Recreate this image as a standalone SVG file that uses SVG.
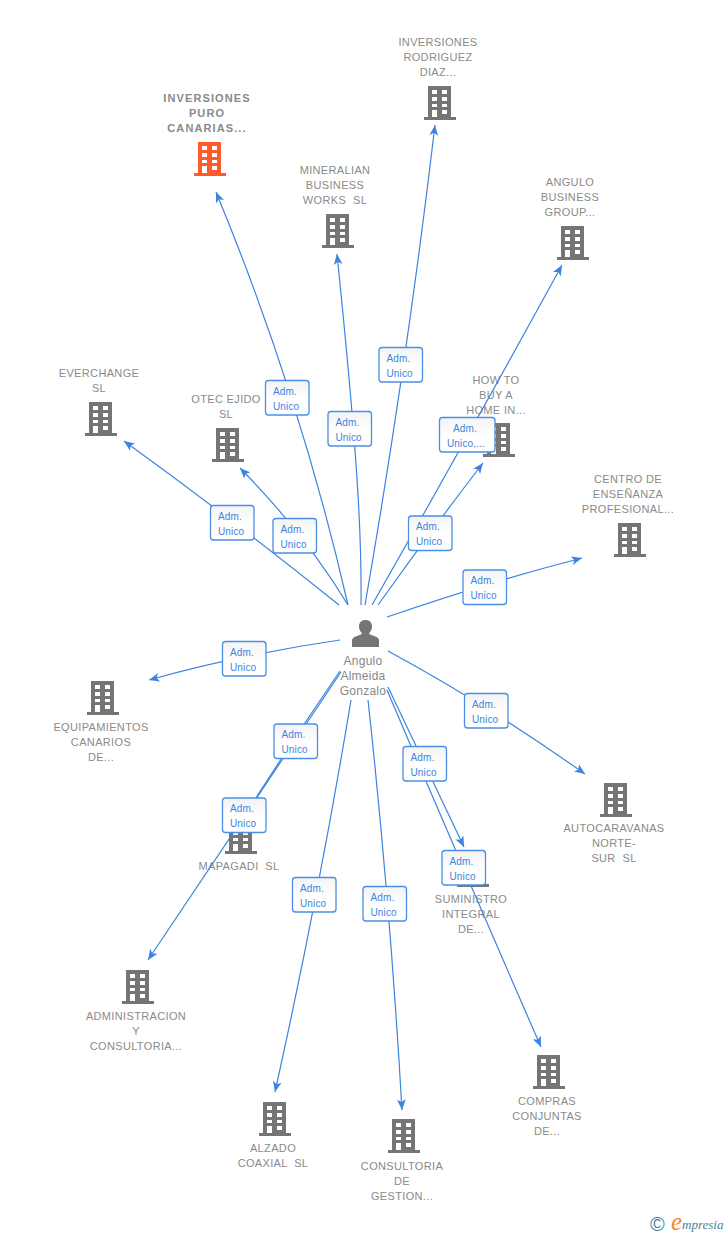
<svg xmlns="http://www.w3.org/2000/svg" width="728" height="1235" viewBox="0 0 728 1235">
<style>
text{font-family:"Liberation Sans",Arial,sans-serif;white-space:pre}
.n{font-size:11px;letter-spacing:.35px;fill:#8a8a8a;text-anchor:middle}
.b{font-weight:bold;letter-spacing:1.1px}
.p{font-size:12px;letter-spacing:.25px;fill:#878787;text-anchor:middle}
.e{fill:none;stroke:#3d83e0;stroke-width:1.2;marker-end:url(#a)}
.l rect{fill:url(#g);stroke:#4a8ee6;stroke-width:1.3}
.l text{font-size:10px;letter-spacing:.15px;fill:#3d83e0}
.c{fill:#757575}.o{fill:#ff5a2b}
</style>
<defs>
<linearGradient id="g" x1="0" y1="0" x2="0" y2="1"><stop offset="0" stop-color="#f3f3f3"/><stop offset=".55" stop-color="#fff"/></linearGradient>
<marker id="a" markerUnits="userSpaceOnUse" markerWidth="11" markerHeight="10" viewBox="0 0 11 10" refX="10.5" refY="5" orient="auto"><path d="M0,.6L10.5,5L0,9.4L2.6,5z" fill="#3d83e0"/></marker>
<path id="w" fill-rule="evenodd" d="M4,0H27V31H32V34H0V31H4ZM8,4V8H13V4ZM18,4V8H23V4ZM8,11V15H13V11ZM18,11V15H23V11ZM8,18V21H13V18ZM18,18V21H23V18ZM8,24V31H13V24ZM18,24V28H23V24Z"/>
</defs>
<rect width="728" height="1235" fill="#fff"/>
<g id="node-inversiones-puro"><use href="#w" class="o" x="194" y="142"/><text class="n b"><tspan x="207" y="102">INVERSIONES</tspan><tspan x="207" y="117">PURO</tspan><tspan x="207" y="132">CANARIAS...</tspan></text></g>
<g id="node-inversiones-rodriguez"><use href="#w" class="c" x="424" y="86"/><text class="n"><tspan x="438" y="46">INVERSIONES</tspan><tspan x="438" y="61">RODRIGUEZ</tspan><tspan x="438" y="76">DIAZ...</tspan></text></g>
<g id="node-mineralian"><use href="#w" class="c" x="322" y="214"/><text class="n"><tspan x="335" y="174">MINERALIAN</tspan><tspan x="335" y="189">BUSINESS</tspan><tspan x="335" y="204">WORKS  SL</tspan></text></g>
<g id="node-angulo-business"><use href="#w" class="c" x="557" y="226"/><text class="n"><tspan x="570" y="186">ANGULO</tspan><tspan x="570" y="201">BUSINESS</tspan><tspan x="570" y="216">GROUP...</tspan></text></g>
<g id="node-how-to-buy"><use href="#w" class="c" x="483" y="423"/><text class="n"><tspan x="496" y="384">HOW TO</tspan><tspan x="496" y="399">BUY A</tspan><tspan x="496" y="414">HOME IN...</tspan></text></g>
<g id="node-everchange"><use href="#w" class="c" x="85" y="402"/><text class="n"><tspan x="99" y="377">EVERCHANGE</tspan><tspan x="99" y="392">SL</tspan></text></g>
<g id="node-otec"><use href="#w" class="c" x="212" y="428"/><text class="n"><tspan x="226" y="403">OTEC EJIDO</tspan><tspan x="226" y="418">SL</tspan></text></g>
<g id="node-centro"><use href="#w" class="c" x="614" y="523"/><text class="n"><tspan x="628" y="483">CENTRO DE</tspan><tspan x="628" y="498">ENSEÑANZA</tspan><tspan x="628" y="513">PROFESIONAL...</tspan></text></g>
<g id="node-equipamientos"><use href="#w" class="c" x="87" y="681"/><text class="n"><tspan x="101" y="731">EQUIPAMIENTOS</tspan><tspan x="101" y="746">CANARIOS</tspan><tspan x="101" y="761">DE...</tspan></text></g>
<g id="node-autocaravanas"><use href="#w" class="c" x="600" y="783"/><text class="n"><tspan x="614" y="832">AUTOCARAVANAS</tspan><tspan x="614" y="847">NORTE-</tspan><tspan x="614" y="862">SUR  SL</tspan></text></g>
<g id="node-mapagadi"><use href="#w" class="c" x="225" y="820"/><text class="n"><tspan x="239" y="870">MAPAGADI  SL</tspan></text></g>
<g id="node-suministro"><use href="#w" class="c" x="457" y="853"/><text class="n"><tspan x="471" y="903">SUMINISTRO</tspan><tspan x="471" y="918">INTEGRAL</tspan><tspan x="471" y="933">DE...</tspan></text></g>
<g id="node-administracion"><use href="#w" class="c" x="122" y="970"/><text class="n"><tspan x="136" y="1020">ADMINISTRACION</tspan><tspan x="136" y="1035">Y</tspan><tspan x="136" y="1050">CONSULTORIA...</tspan></text></g>
<g id="node-alzado"><use href="#w" class="c" x="259" y="1102"/><text class="n"><tspan x="273" y="1152">ALZADO</tspan><tspan x="273" y="1167">COAXIAL  SL</tspan></text></g>
<g id="node-consultoria"><use href="#w" class="c" x="388" y="1119"/><text class="n"><tspan x="402" y="1170">CONSULTORIA</tspan><tspan x="402" y="1185">DE</tspan><tspan x="402" y="1200">GESTION...</tspan></text></g>
<g id="node-compras"><use href="#w" class="c" x="533" y="1055"/><text class="n"><tspan x="547" y="1105">COMPRAS</tspan><tspan x="547" y="1120">CONJUNTAS</tspan><tspan x="547" y="1135">DE...</tspan></text></g>
<g id="node-angulo-almeida"><path class="c" d="M352,647V640.5C352,638 354,637 357,636L361.5,634.2V632.6C359.7,631 359,628.5 359,626.5C359,622.5 361.5,620 365.5,620C369.5,620 372,622.5 372,626.5C372,628.5 371.3,631 369.5,632.6V634.2L374,636C377,637 379,638 379,640.5V647Z"/><text class="p"><tspan x="363" y="665">Angulo</tspan><tspan x="363" y="680">Almeida</tspan><tspan x="363" y="695">Gonzalo</tspan></text></g>
<g id="connectors">
<path class="e" d="M348,605Q300,395 216,192"/>
<path class="e" d="M361,605C362,530 356,440 337,254"/>
<path class="e" d="M365,605Q407,363 435,125"/>
<path class="e" d="M372,605Q470,433 562,265"/>
<path class="e" d="M378,605Q430,532 483,463"/>
<path class="e" d="M387,617Q485,583 582,558"/>
<path class="e" d="M388,651Q486,704 585,774"/>
<path class="e" d="M388,687Q422,759 464,847"/>
<path class="e" d="M387,690Q462,866 541,1047"/>
<path class="e" d="M368,700Q390,901 402,1110"/>
<path class="e" d="M351,700Q319,894 275,1092"/>
<path class="e" d="M341,672L148,960"/>
<path class="e" d="M340,671Q292,741 247,812"/>
<path class="e" d="M340,640Q243,654 149,680"/>
<path class="e" d="M339,605Q232,519 124,441"/>
<path class="e" d="M348,605Q305,534 240,468"/>
<g class="l"><rect x="265.500" y="380.500" width="43.500" height="34.500" rx="3"/><text x="273" y="394.500">Adm.</text><text x="273" y="409.500">Unico</text></g>
<g class="l"><rect x="328" y="411.500" width="43.500" height="34.500" rx="3"/><text x="335.500" y="425.500">Adm.</text><text x="335.500" y="440.500">Unico</text></g>
<g class="l"><rect x="379" y="347.500" width="43.500" height="34.500" rx="3"/><text x="386.500" y="361.500">Adm.</text><text x="386.500" y="376.500">Unico</text></g>
<g class="l"><rect x="439.500" y="417.500" width="55.500" height="34.500" rx="3"/><text x="453" y="431.500">Adm.</text><text x="447" y="446.500">Unico,...</text></g>
<g class="l"><rect x="408.500" y="516" width="43.500" height="34.500" rx="3"/><text x="416" y="530">Adm.</text><text x="416" y="545">Unico</text></g>
<g class="l"><rect x="463" y="570" width="43.500" height="34.500" rx="3"/><text x="470.500" y="584">Adm.</text><text x="470.500" y="599">Unico</text></g>
<g class="l"><rect x="210.500" y="505.500" width="43.500" height="34.500" rx="3"/><text x="218" y="519.500">Adm.</text><text x="218" y="534.500">Unico</text></g>
<g class="l"><rect x="273" y="518.500" width="43.500" height="34.500" rx="3"/><text x="280.500" y="532.500">Adm.</text><text x="280.500" y="547.500">Unico</text></g>
<g class="l"><rect x="222.500" y="641.500" width="43.500" height="34.500" rx="3"/><text x="230" y="655.500">Adm.</text><text x="230" y="670.500">Unico</text></g>
<g class="l"><rect x="464.500" y="693.500" width="43.500" height="34.500" rx="3"/><text x="472" y="707.500">Adm.</text><text x="472" y="722.500">Unico</text></g>
<g class="l"><rect x="274" y="724" width="43.500" height="34.500" rx="3"/><text x="281.500" y="738">Adm.</text><text x="281.500" y="753">Unico</text></g>
<g class="l"><rect x="403" y="746.500" width="43.500" height="34.500" rx="3"/><text x="410.500" y="760.500">Adm.</text><text x="410.500" y="775.500">Unico</text></g>
<g class="l"><rect x="222.500" y="798" width="43.500" height="34.500" rx="3"/><text x="230" y="812">Adm.</text><text x="230" y="827">Unico</text></g>
<g class="l"><rect x="442" y="850.500" width="43.500" height="34.500" rx="3"/><text x="449.500" y="864.500">Adm.</text><text x="449.500" y="879.500">Unico</text></g>
<g class="l"><rect x="292.500" y="877.500" width="43.500" height="34.500" rx="3"/><text x="300" y="891.500">Adm.</text><text x="300" y="906.500">Unico</text></g>
<g class="l"><rect x="363" y="886.500" width="43.500" height="34.500" rx="3"/><text x="370.500" y="900.500">Adm.</text><text x="370.500" y="915.500">Unico</text></g>
</g>
<g id="logo">
<text x="650" y="1231" font-size="20" fill="#4a7f9f">©</text>
<text x="671" y="1230" font-size="25" font-style="italic" fill="#f08a1d" style="font-family:'Liberation Serif',serif">e</text>
<text x="682" y="1229" font-size="13" font-style="italic" fill="#3f7f9f" style="font-family:'Liberation Serif',serif">mpresia</text>
</g>
</svg>
